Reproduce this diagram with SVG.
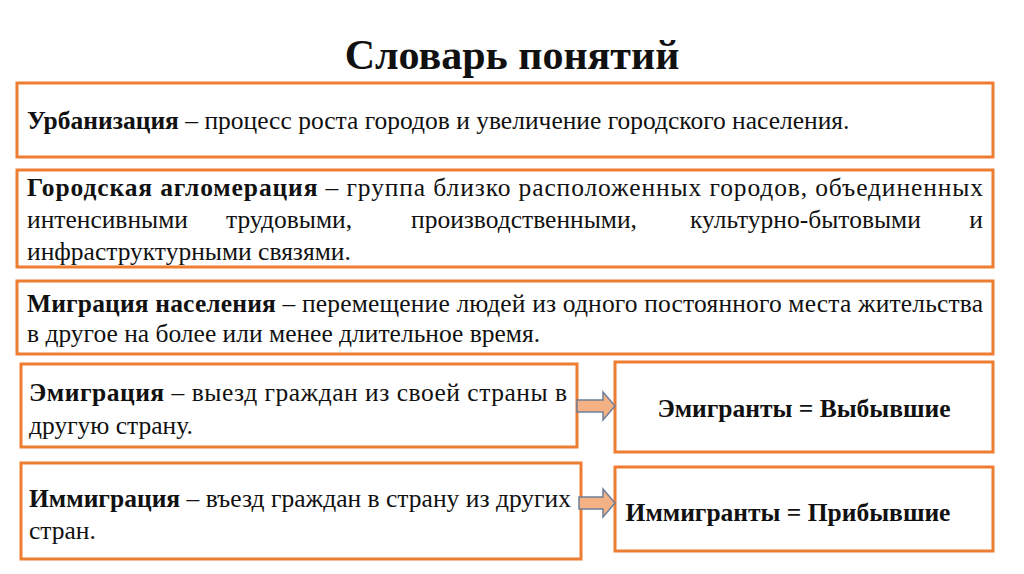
<svg xmlns="http://www.w3.org/2000/svg" width="1024" height="574" viewBox="0 0 1024 574">
<style>
.b{fill:#fff;stroke:#ED7D31;stroke-width:3}
text{font-family:"Liberation Serif","Times New Roman",serif;font-size:25.5px;fill:#111}
.t{font-size:42px;font-weight:bold;text-anchor:middle}
.k{font-weight:bold}
.a{fill:#F4B183;stroke:#6F7F99;stroke-width:1.5}
</style>
<rect width="1024" height="574" fill="#fff"/>
<text class="t" x="512" y="69">Словарь понятий</text>
<g id="n1"><rect class="b" x="17" y="83" width="976" height="74"/>
<text x="27" y="129"><tspan class="k">Урбанизация</tspan> – процесс роста городов и увеличение городского населения.</text></g>
<g id="n2"><rect class="b" x="17" y="170" width="976" height="97"/>
<text x="27" y="196" textLength="956" lengthAdjust="spacing"><tspan class="k">Городская агломерация</tspan> – группа близко расположенных городов, объединенных</text>
<text x="27" y="228">интенсивными</text>
<text x="226" y="228">трудовыми,</text>
<text x="411" y="228">производственными,</text>
<text x="690" y="228">культурно-бытовыми</text>
<text x="983" y="228" text-anchor="end">и</text>
<text x="27" y="260">инфраструктурными связями.</text></g>
<g id="n3"><rect class="b" x="17" y="281" width="976" height="73"/>
<text x="27" y="312" textLength="956" lengthAdjust="spacing"><tspan class="k">Миграция населения</tspan> – перемещение людей из одного постоянного места жительства</text>
<text x="27" y="342">в другое на более или менее длительное время.</text></g>
<g id="n4"><rect class="b" x="21" y="364" width="556" height="83"/>
<text x="29" y="401" textLength="538" lengthAdjust="spacing"><tspan class="k">Эмиграция</tspan> – выезд граждан из своей страны в</text>
<text x="29" y="434">другую страну.</text></g>
<g id="n5"><rect class="b" x="615" y="362" width="378" height="90"/>
<text class="k" x="804" y="417" text-anchor="middle">Эмигранты = Выбывшие</text></g>
<g id="n6"><rect class="b" x="21" y="463" width="560" height="96"/>
<text x="29" y="507" textLength="542" lengthAdjust="spacing"><tspan class="k">Иммиграция</tspan> – въезд граждан в страну из других</text>
<text x="29" y="539">стран.</text></g>
<g id="n7"><rect class="b" x="615" y="467" width="378" height="84"/>
<text class="k" x="788" y="521" text-anchor="middle">Иммигранты = Прибывшие</text></g>
<g id="connectors">
<path class="a" d="M577,400 H603 V392 L615,406 L603,420 V412 H577 Z"/>
<path class="a" d="M579,497 H603 V489 L615,503 L603,517 V509 H579 Z"/>
</g>
</svg>
